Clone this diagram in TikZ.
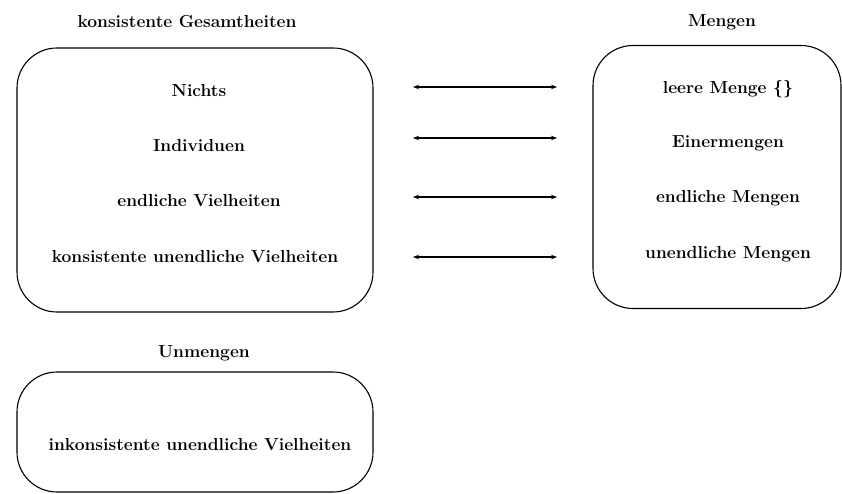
\documentclass[tikz,border=0pt]{standalone}
\usetikzlibrary{arrows.meta}
\begin{document}
\begin{tikzpicture}[x=1pt,y=-1pt,
  box/.style={draw,line width=1.1pt,rounded corners=40pt,inner sep=0pt},
  lbl/.style={font=\fontsize{17.4}{21}\selectfont\bfseries,inner sep=0pt,anchor=base},
  conn/.style={line width=1.1pt,{Stealth[length=6pt,width=4.5pt]}-{Stealth[length=6pt,width=4.5pt]}}]
\useasboundingbox (0,0) rectangle (842,494);
% boxes
\node[box,minimum width=356pt,minimum height=264pt] (konsbox) at (195,180) {};
\node[box,minimum width=248pt,minimum height=263pt] (mengbox) at (717,177) {};
\node[box,minimum width=356pt,minimum height=120pt] (unbox) at (195,432) {};
% titles
\node[lbl] (tkons) at (187,28) {konsistente Gesamtheiten};
\node[lbl] (tmeng) at (722,27) {Mengen};
\node[lbl] (tun) at (204,357) {Unmengen};
% left items
\node[lbl] (nichts) at (199,97) {Nichts};
\node[lbl] (indiv) at (199,152) {Individuen};
\node[lbl] (endv) at (199,207) {endliche Vielheiten};
\node[lbl] (konsv) at (195,262) {konsistente unendliche Vielheiten};
% right items
\node[lbl] (leer) at (728,94) {leere Menge \{\}};
\node[lbl] (einer) at (728,148) {Einermengen};
\node[lbl] (endm) at (728,203) {endliche Mengen};
\node[lbl] (unendm) at (728,258) {unendliche Mengen};
% bottom item
\node[lbl] (inkons) at (200,450) {inkonsistente unendliche Vielheiten};
% arrows
\coordinate (a1l) at (413,87); \coordinate (a1r) at (557,87);
\coordinate (a2l) at (413,138); \coordinate (a2r) at (557,138);
\coordinate (a3l) at (413,197); \coordinate (a3r) at (557,197);
\coordinate (a4l) at (413,257); \coordinate (a4r) at (557,257);
\draw[conn] (a1l) -- (a1r);
\draw[conn] (a2l) -- (a2r);
\draw[conn] (a3l) -- (a3r);
\draw[conn] (a4l) -- (a4r);
\end{tikzpicture}
\end{document}
